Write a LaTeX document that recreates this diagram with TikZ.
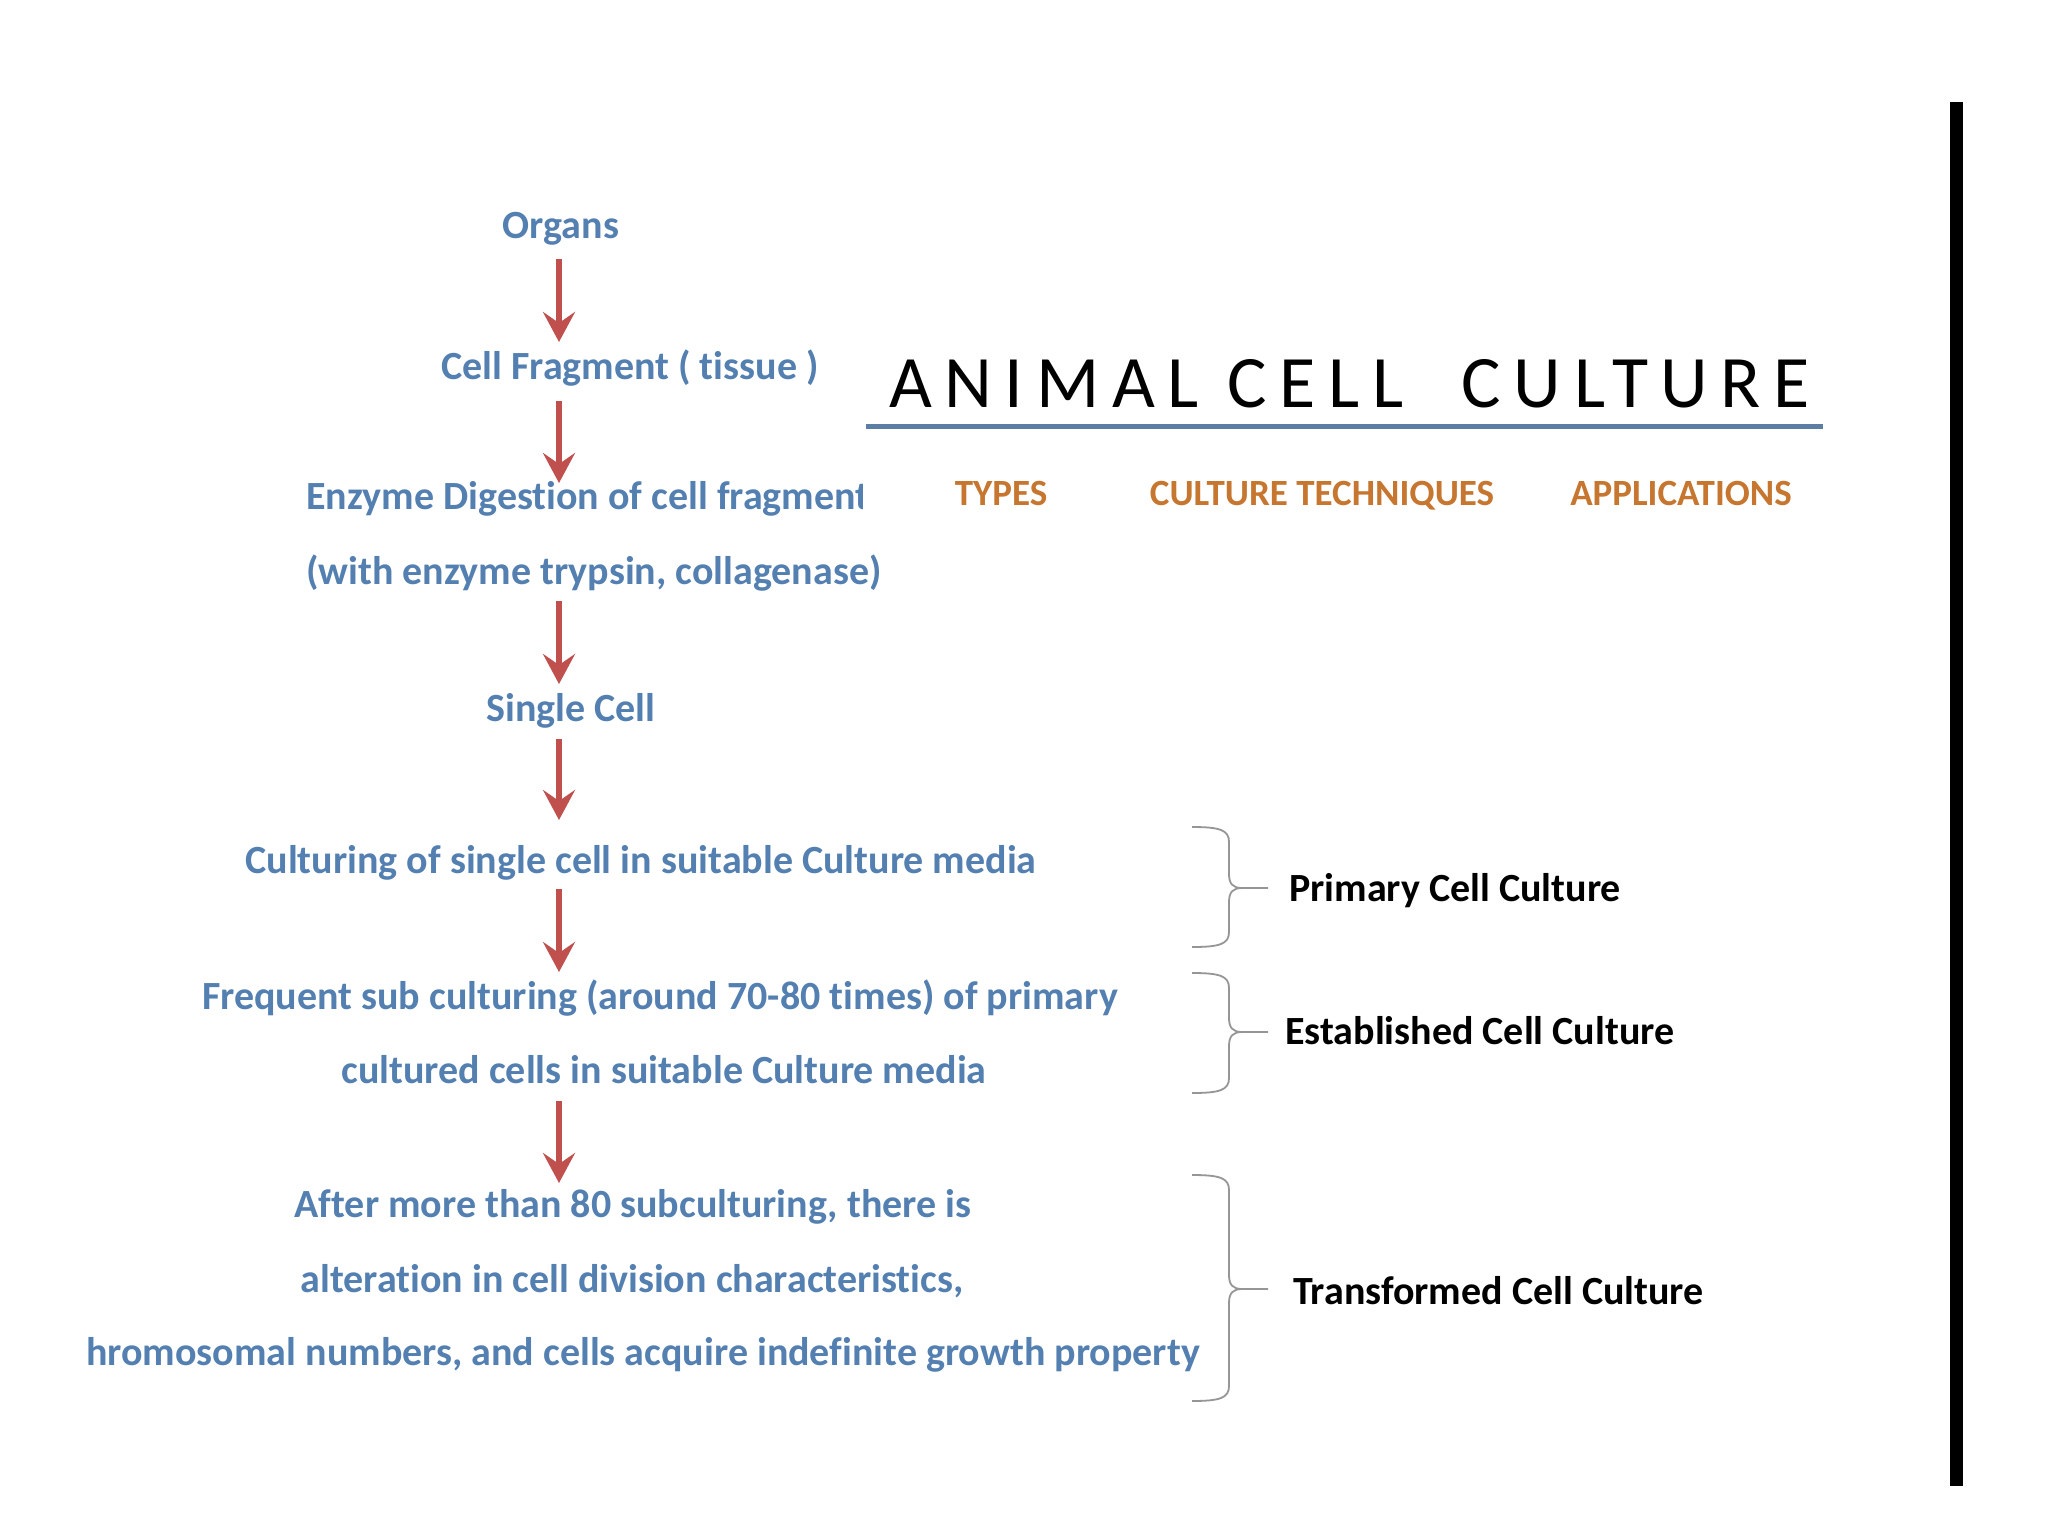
\documentclass[tikz,border=0pt]{standalone}
\usepackage{fontspec}
\setmainfont{Carlito}[Ligatures=NoCommon]
\newfontfamily\titlefont[LetterSpace=17]{Carlito}
\usetikzlibrary{arrows.meta}
\definecolor{txtblue}{RGB}{84,128,177}
\definecolor{hdrorange}{RGB}{198,118,46}
\definecolor{arrred}{RGB}{192,80,77}
\definecolor{linblue}{RGB}{92,126,165}
\definecolor{brcgray}{RGB}{150,150,150}
\newcommand\mybrc[3]{%
  \draw[brcstyle] (1192,#1) .. controls (1220,#1) and (1229,{#1+3}) .. (1229,{#1+15}) -- (1229,{#2-14}) .. controls (1229,{#2-4}) and (1233,#2) .. (1242,#2) -- (1268,#2);
  \draw[brcstyle] (1192,#3) .. controls (1220,#3) and (1229,{#3-3}) .. (1229,{#3-15}) -- (1229,{#2+14}) .. controls (1229,{#2+4}) and (1233,#2) .. (1242,#2);
}
\begin{document}
\begin{tikzpicture}[x=1pt,y=-1pt,
  bluetxt/.style={text=txtblue, font=\bfseries\fontsize{40}{46}\selectfont, inner sep=0pt, anchor=base},
  lbl/.style={text=black, font=\bfseries\fontsize{40}{48}\selectfont, inner sep=0pt, anchor=base west},
  hdr/.style={text=hdrorange, font=\bfseries\fontsize{37}{42}\selectfont, inner sep=0pt, anchor=base},
  arr/.style={draw=arrred, line width=6pt, -{Stealth[length=30pt,width=32pt,inset=11pt]}},
  brcstyle/.style={draw=brcgray, line width=1.8pt}]
\useasboundingbox (0,0) rectangle (2048,1536);
\fill[white] (0,0) rectangle (2048,1536);
% flow text
\node[bluetxt] (organs) at (561,238) {Organs};
\node[bluetxt] (frag) at (630,379) {Cell Fragment ( tissue )};
\begin{scope}
\clip (0,440) rectangle (862,530);
\node[bluetxt, anchor=base west] (enzyme) at (306,509) {Enzyme Digestion of cell fragment};
\end{scope}
\node[bluetxt, anchor=base west] (with) at (306,584) {(with enzyme trypsin, collagenase)};
\node[bluetxt] (single) at (571,721) {Single Cell};
\node[bluetxt] (cult) at (641,873) {Culturing of single cell in suitable Culture media};
\node[bluetxt] (freq) at (660,1009) {Frequent sub culturing (around 70-80 times) of primary};
\node[bluetxt] (cultured) at (664,1083) {cultured cells in suitable Culture media};
\node[bluetxt] (after) at (633,1217) {After more than 80 subculturing, there is};
\node[bluetxt] (alter) at (632,1292) {alteration in cell division characteristics,};
\node[bluetxt, anchor=base west] (chromo) at (86,1365) {hromosomal numbers, and cells acquire indefinite growth property};
% arrows
\coordinate (ax) at (559,0);
\draw[arr, shorten <=21pt, shorten >=37pt] (organs.base -| ax) -- (frag.base -| ax);
\draw[arr, shorten <=22pt, shorten >=26pt] (frag.base -| ax) -- (enzyme.base -| ax);
\draw[arr, shorten <=17pt, shorten >=37pt] (with.base -| ax) -- (single.base -| ax);
\draw[arr, shorten <=18pt, shorten >=53pt] (single.base -| ax) -- (cult.base -| ax);
\draw[arr, shorten <=16pt, shorten >=37pt] (cult.base -| ax) -- (freq.base -| ax);
\draw[arr, shorten <=18pt, shorten >=34pt] (cultured.base -| ax) -- (after.base -| ax);
% title
\node[inner sep=0pt, anchor=base west, font=\titlefont\fontsize{74}{80}\selectfont] (title) at (889,407) {ANIMAL CELL\ \ CULTURE};
\coordinate (ul1) at (866,426);
\coordinate (ul2) at (1823,426);
\draw[linblue, line width=5pt] (ul1) -- (ul2);
\node[hdr] (types) at (1001,505) {TYPES};
\node[hdr] (tech) at (1322,505) {CULTURE TECHNIQUES};
\node[hdr] (appl) at (1681,505) {APPLICATIONS};
% braces
\mybrc{827}{888}{947}
\mybrc{973}{1032}{1093}
\mybrc{1175}{1289}{1401}
\node[lbl] (prim) at (1289,901) {Primary Cell Culture};
\node[lbl] (estab) at (1285,1044) {Established Cell Culture};
\node[lbl] (trans) at (1293,1304) {Transformed Cell Culture};
% right bar
\fill[black] (1950,102) rectangle (1963,1486);
\end{tikzpicture}
\end{document}
